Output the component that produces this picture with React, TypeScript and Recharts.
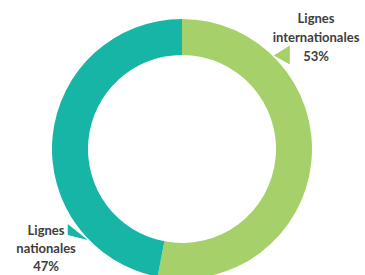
import { PieChart, Pie, Cell } from "recharts";

// Répartition des lignes
const categories = ["Lignes internationales", "Lignes nationales"];
const shares = [53, 47];
const labelLines = [["Lignes", "internationales"], ["Lignes", "nationales"]];

const COLORS = ["#a6d06a", "#17b5a6"];
const TEXT = "#3d3d3d";
// where each callout sits around the ring (degrees, counter-clockwise from 3 o'clock)
const CALLOUT_ANGLE = [40, 216];
const CALLOUT_DIST = [175, 168];
const LINE_GAP = [19, 18];
// wedge: tip angle on the ring, base offset (dx) and base span (dy from tip)
const WEDGE_ANGLE = [45.5, 224];
const WEDGE_DX = [16, -20];
const WEDGE_SPAN = [[-10, 9], [-16, -5]];

const data = categories.map((name, i) => ({ name, value: shares[i] }));

const RAD = Math.PI / 180;

function Callout(props: any) {
  const { cx, cy, outerRadius, index } = props;
  const a = CALLOUT_ANGLE[index] * RAD;
  const d = CALLOUT_DIST[index];
  const gap = LINE_GAP[index];
  const tx = cx + d * Math.cos(a);
  const ty = cy - d * Math.sin(a);
  // little wedge pointing back at the ring
  const wa = WEDGE_ANGLE[index] * RAD;
  const px = cx + (outerRadius + 1) * Math.cos(wa);
  const py = cy - (outerRadius + 1) * Math.sin(wa);
  const bx = px + WEDGE_DX[index];
  const [s0, s1] = WEDGE_SPAN[index];
  const pts = `${px},${py} ${bx},${py + s0} ${bx},${py + s1}`;
  const lines = [...labelLines[index], `${shares[index]}%`];
  return (
    <g>
      <polygon points={pts} fill={COLORS[index]} />
      <text
        x={tx}
        y={ty - gap}
        textAnchor="middle"
        fill={TEXT}
        fontFamily="Lato, sans-serif"
        fontWeight={700}
        fontSize={13}
      >
        {lines.map((l, i) => (
          <tspan key={i} x={tx} dy={i === 0 ? 0 : gap} dominantBaseline="central">
            {l}
          </tspan>
        ))}
      </text>
    </g>
  );
}

export default function App() {
  return (
    <div style={{ position: "absolute", left: 0, top: 0, width: 365, height: 275, background: "#fff" }}>
      <PieChart width={365} height={275} margin={{ top: 0, right: 0, bottom: 0, left: 0 }}>
        <Pie
          data={data}
          dataKey="value"
          nameKey="name"
          cx={182}
          cy={149}
          innerRadius={94}
          outerRadius={130}
          startAngle={90}
          endAngle={-270}
          stroke="none"
          labelLine={false}
          label={Callout}
          isAnimationActive={false}
        >
          {data.map((d, i) => (
            <Cell key={d.name} fill={COLORS[i]} />
          ))}
        </Pie>
      </PieChart>
    </div>
  );
}
